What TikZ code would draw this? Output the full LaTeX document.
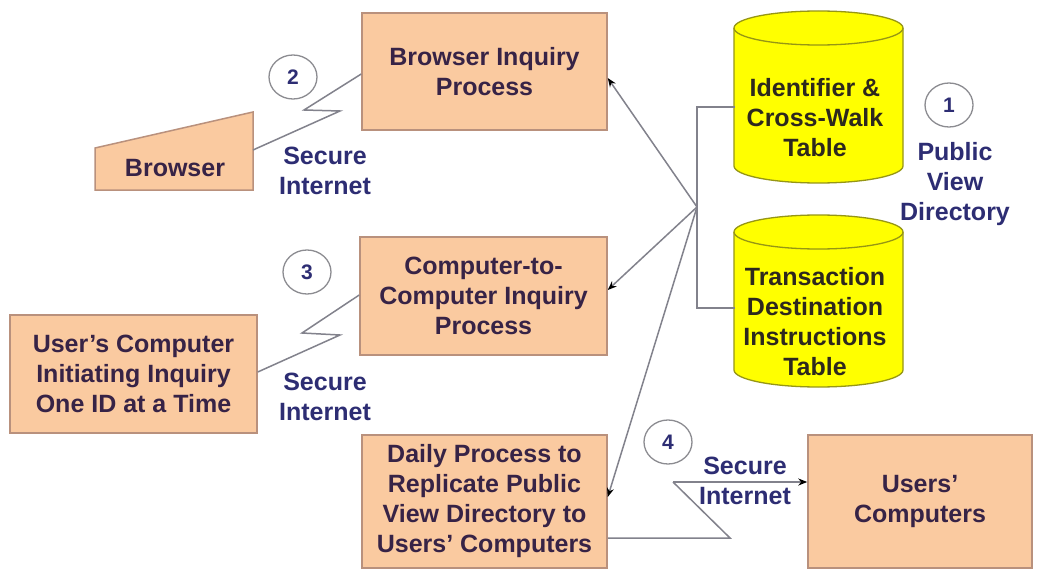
\documentclass[tikz,border=0pt]{standalone}
\usepackage{fontspec}
\setmainfont{Liberation Sans}
\usetikzlibrary{arrows.meta,shapes.geometric}
\definecolor{peach}{RGB}{250,202,160}
\definecolor{peachborder}{RGB}{185,145,125}
\definecolor{boxtext}{RGB}{55,35,70}
\definecolor{navy}{RGB}{45,45,115}
\definecolor{cylyellow}{RGB}{255,255,0}
\definecolor{cylborder}{RGB}{150,150,20}
\definecolor{cyltext}{RGB}{45,40,30}
\definecolor{conn}{RGB}{130,130,140}
\definecolor{circborder}{RGB}{140,140,145}
\tikzset{
  procbox/.style={draw=peachborder, fill=peach, line width=1.5pt, align=center,
    text=boxtext, font=\fontsize{25}{30}\selectfont\bfseries, inner sep=0pt},
  lbl/.style={align=center, text=navy, font=\fontsize{25}{30}\selectfont\bfseries, inner sep=0pt},
  numcirc/.style={draw=circborder, fill=white, line width=1.3pt,
    shape=ellipse, minimum width=48pt, minimum height=44pt, inner sep=0pt, text=navy,
    font=\fontsize{21}{24}\selectfont\bfseries},
  cyltxt/.style={align=center, text=cyltext, font=\fontsize{25}{30}\selectfont\bfseries, inner sep=0pt},
  wire/.style={draw=conn, line width=1.5pt},
  arr/.style={wire, -{Stealth[length=9pt,width=7pt,color=black]}}
}
\begin{document}
\begin{tikzpicture}[x=1pt,y=-1pt]
\useasboundingbox (0,0) rectangle (1043,572);
\fill[white] (0,0) rectangle (1043,572);

% process boxes
\node[procbox, minimum width=245pt, minimum height=117pt] (bip) at (484.5,71.5) {Browser Inquiry\\Process};
\node[procbox, minimum width=247pt, minimum height=118pt] (cip) at (483.5,296) {Computer-to-\\Computer Inquiry\\Process};
\node[procbox, minimum width=245pt, minimum height=133pt] (dp) at (484.5,501.5) {Daily Process to\\Replicate Public\\View Directory to\\Users' Computers};
\node[procbox, minimum width=224pt, minimum height=133pt] (uc) at (920,501.5) {Users'\\Computers};
\node[procbox, minimum width=247pt, minimum height=118pt] (usr) at (133.5,374) {User's Computer\\Initiating Inquiry\\One ID at a Time};

% browser trapezoid
\draw[draw=peachborder, fill=peach, line width=1.5pt] (95,148) -- (253,112) -- (253,190) -- (95,190) -- cycle;
\node[cyltxt, text=boxtext] (br) at (175,168) {Browser};
\coordinate (brR) at (253,150);

% cylinders
\foreach \yt/\yb in {28/166, 232/370} {
  \draw[draw=cylborder, fill=cylyellow, line width=1.3pt]
    (734,\yt) -- (734,\yb) arc[start angle=180,end angle=360,x radius=84.5pt,y radius=17pt]
    -- (903,\yt) arc[start angle=0,end angle=180,x radius=84.5pt,y radius=17pt] -- cycle;
  \draw[draw=cylborder, line width=1.3pt]
    (734,\yt) arc[start angle=180,end angle=360,x radius=84.5pt,y radius=17pt];
}
\node[cyltxt] (cyl1) at (815,118) {Identifier \&\\Cross-Walk\\Table};
\node[cyltxt] (cyl2) at (815,322) {Transaction\\Destination\\Instructions\\Table};
\coordinate (c1L) at (735,107);
\coordinate (c2L) at (735,308);

% bracket & hub
\coordinate (bt) at (697,107);
\coordinate (bb) at (697,308);
\coordinate (hub) at (697,207);
\draw[wire] (c1L) -- (bt) -- (bb) -- (c2L);
\draw[arr] (hub) -- (bip.east |- 0,78);
\draw[arr] (hub) -- (cip.east |- 0,290);
\draw[arr] (hub) -- (dp.east |- 0,497);

% lightning 2
\coordinate (l2a) at (340,111);
\coordinate (l2b) at (304,110);
\draw[wire] (brR) -- (l2a) -- (l2b) -- (bip.west |- 0,74);

% lightning 3
\coordinate (l3a) at (340,335);
\coordinate (l3b) at (302,333);
\draw[wire] (usr.east |- 0,372) -- (l3a) -- (l3b) -- (cip.west |- 0,295);

% lightning 4
\coordinate (l4a) at (730,538);
\coordinate (l4b) at (673,482);
\draw[wire] (dp.east |- 0,538) -- (l4a) -- (l4b);
\draw[arr] (l4b) -- (uc.west |- 0,482);

% numbered circles
\node[numcirc] (n1) at (949,105) {1};
\node[numcirc] (n2) at (293,77) {2};
\node[numcirc] (n3) at (307,272) {3};
\node[numcirc] (n4) at (668,442) {4};

% labels
\node[lbl] (s2) at (325,171) {Secure\\Internet};
\node[lbl] (s3) at (325,397) {Secure\\Internet};
\node[lbl] (s4) at (745,481) {Secure\\Internet};
\node[lbl] (pvd) at (955,184) {Public\\View\\Directory};
\end{tikzpicture}
\end{document}
